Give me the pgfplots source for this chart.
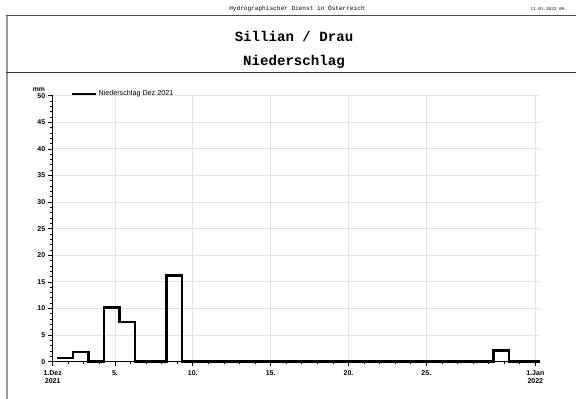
\documentclass[border=0pt]{standalone}
\usepackage{pgfplots}
\pgfplotsset{compat=1.18}
\usepackage{fontspec}
\setmainfont{Liberation Sans}
\newfontfamily\mono{Liberation Mono}
\definecolor{gridgray}{RGB}{226,226,226}
\begin{document}
\begin{tikzpicture}[x=1pt,y=1pt]
\path[use as bounding box] (0,0) rectangle (576,-399);
\draw[line width=2pt, black!40] (6.7,-15.5) -- (6.7,-399);
\draw[line width=1pt, black!70] (5.7,-15.5) -- (576,-15.5);
\draw[line width=1pt, black!80] (5.7,-72.5) -- (576,-72.5);
\node[font=\mono\fontsize{6.1}{7}\selectfont, inner sep=0pt] at (297,-8.3) {Hydrographischer Dienst in Österreich};
\node[font=\mono\fontsize{4.3}{5}\selectfont, anchor=east, inner sep=0pt] at (567,-9) {11.01.2022 09.};
\node[font=\mono\bfseries\fontsize{14.1}{16}\selectfont, anchor=base, inner sep=0pt] at (294,-41.7) {Sillian / Drau};
\node[font=\mono\bfseries\fontsize{14.1}{16}\selectfont, anchor=base, inner sep=0pt] at (294,-65) {Niederschlag};
\node[font=\bfseries\fontsize{6.8}{7}\selectfont, inner sep=0pt] at (39,-89.5) {mm};
\begin{axis}[
  at={(52.7pt,-361.7pt)}, anchor=origin,
  scale only axis, width=487.3pt, height=266pt,
  xmin=0, xmax=31.3, ymin=0, ymax=50,
  axis x line*=bottom, axis y line*=left,
  axis line style={-, line width=0.9pt, black},
  xtick={0,4,9,14,19,24,31},
  xticklabels={{1.Dez\\2021},5.,10.,15.,20.,25.,{1.Jan\\2022}},
  minor xtick={1,2,3,5,6,7,8,10,11,12,13,15,16,17,18,20,21,22,23,25,26,27,28,29,30},
  ytick={0,5,...,50},
  minor ytick={0,1,...,50},
  tick align=outside,
  major tick length=4.5pt, minor tick length=2.5pt,
  every tick/.style={black, line width=0.8pt},
  xmajorgrids, ymajorgrids,
  major grid style={gridgray, line width=0.9pt},
  /pgf/number format/assume math mode=true,
  ticklabel style={font=\bfseries\fontsize{7}{8.3}\selectfont},
  xticklabel style={align=center, yshift=-1pt},
  yticklabel style={xshift=0.5pt},
  clip=false,
  legend style={draw=none, fill=none, inner sep=0pt, outer sep=0pt,
    at={(axis description cs:0.037,1.006)}, anchor=west,
    font=\fontsize{7.2}{8}\selectfont, nodes={inner sep=1.2pt}},
  legend image code/.code={\draw[line width=2.6pt, black] (0pt,0pt) -- (24pt,0pt);},
]
\addplot[const plot, black, line width=2.5pt, mark=none] coordinates {
(0.3,0.7) (1.3,1.8) (2.3,0) (3.3,10.2) (4.3,7.5) (5.3,0) (6.3,0) (7.3,16.2)
(8.3,0) (9.3,0) (10.3,0) (11.3,0) (12.3,0) (13.3,0) (14.3,0) (15.3,0)
(16.3,0) (17.3,0) (18.3,0) (19.3,0) (20.3,0) (21.3,0) (22.3,0) (23.3,0)
(24.3,0) (25.3,0) (26.3,0) (27.3,0) (28.3,2.1) (29.3,0) (30.3,0) (31.3,0)
};
\addlegendentry{Niederschlag Dez 2021}
\end{axis}
\end{tikzpicture}
\end{document}
